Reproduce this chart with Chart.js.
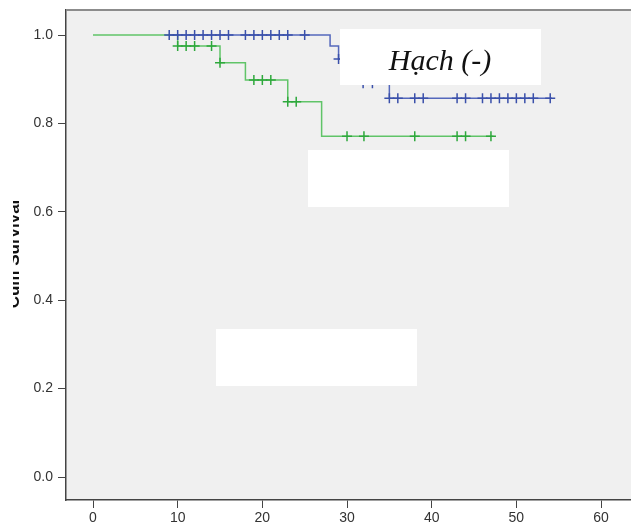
<!DOCTYPE html>
<html>
<head>
<meta charset="utf-8">
<script src="https://cdn.jsdelivr.net/npm/chart.js@4.4.0/dist/chart.umd.min.js"></script>
<style>
  html, body { margin: 0; padding: 0; background: #fff; }
  #wrap { width: 631px; height: 523px; }
</style>
</head>
<body>
<div id="wrap"><canvas id="km" width="631" height="523"></canvas></div>
<script>
// axis ticks
const xTicks = [0, 10, 20, 30, 40, 50, 60];
const yTicks = [0.0, 0.2, 0.4, 0.6, 0.8, 1.0];

// survival steps (time of drop, survival after drop)
const blueTime  = [9, 28, 29, 31, 35, 54.2];
const blueSurv  = [1.0, 0.975, 0.946, 0.891, 0.857, 0.857];
const greenTime = [0, 10, 15, 18, 23, 27, 47.3];
const greenSurv = [1.0, 0.975, 0.937, 0.898, 0.849, 0.771, 0.771];

// censored cases
const blueCensorTime = [9, 10, 11, 12, 13, 14, 15, 16, 18, 19, 20, 21, 22, 23, 25,
                        29, 31.9, 33,
                        35, 36, 38, 39, 43, 44, 46, 47, 48, 49, 50, 51, 52, 54];
const blueCensorSurv = [1, 1, 1, 1, 1, 1, 1, 1, 1, 1, 1, 1, 1, 1, 1,
                        0.946, 0.891, 0.891,
                        0.857, 0.857, 0.857, 0.857, 0.857, 0.857, 0.857, 0.857, 0.857, 0.857, 0.857, 0.857, 0.857, 0.857];
const greenCensorTime = [10, 11, 12, 14, 15, 19, 20, 21, 23, 24, 30, 32, 38, 43, 44, 47];
const greenCensorSurv = [0.975, 0.975, 0.975, 0.975, 0.937, 0.898, 0.898, 0.898,
                         0.849, 0.849, 0.771, 0.771, 0.771, 0.771, 0.771, 0.771];

const BLUE_LINE  = 'rgb(84, 104, 188)';
const BLUE_MARK  = 'rgb(58, 80, 170)';
const GREEN_LINE = 'rgb(96, 196, 104)';
const GREEN_MARK = 'rgb(46, 168, 60)';
const AXIS = '#444';
const FONT = '"Liberation Sans", Arial, sans-serif';

const pts = (xs, ys) => xs.map((x, i) => ({ x, y: ys[i] }));

// keep the plot frame where the reference has it
function noPad(s) {
  s.paddingLeft = 0; s.paddingRight = 0;
  s.paddingTop = 0;  s.paddingBottom = 0;
}

const decor = {
  id: 'decor',
  beforeDraw(chart) {
    const { ctx, chartArea: a } = chart;
    ctx.save();
    ctx.fillStyle = '#fff';
    ctx.fillRect(0, 0, chart.width, chart.height);
    ctx.fillStyle = '#f0f0f0';
    ctx.fillRect(a.left, a.top, a.right - a.left, a.bottom - a.top);
    ctx.restore();
  },
  afterDatasetsDraw(chart) {
    const ctx = chart.ctx;
    ctx.save();
    // white cover boxes
    ctx.fillStyle = '#fff';
    ctx.fillRect(340, 29, 201, 56);
    ctx.fillRect(308, 150, 201, 57);
    ctx.fillRect(216, 329, 201, 57);
    ctx.fillStyle = '#111';
    ctx.font = 'italic 30px "Liberation Serif", "Times New Roman", serif';
    ctx.textAlign = 'center';
    ctx.textBaseline = 'alphabetic';
    ctx.fillText('Hạch (-)', 440, 70);
    ctx.restore();
  },
  afterDraw(chart) {
    const { ctx, chartArea: a } = chart;
    ctx.save();
    // top frame line
    ctx.strokeStyle = '#8c8c8c';
    ctx.lineWidth = 2;
    ctx.beginPath();
    ctx.moveTo(a.left, a.top);
    ctx.lineTo(a.right, a.top);
    ctx.stroke();
    // y title, cut at the left edge
    ctx.beginPath();
    ctx.rect(13, 0, 40, chart.height);
    ctx.clip();
    ctx.translate(19, 254);
    ctx.rotate(-Math.PI / 2);
    ctx.fillStyle = '#111';
    ctx.font = 'bold 17px ' + FONT;
    ctx.textAlign = 'center';
    ctx.textBaseline = 'alphabetic';
    ctx.fillText('Cum Survival', 0, 0);
    ctx.restore();
  }
};

new Chart(document.getElementById('km'), {
  type: 'line',
  data: {
    datasets: [
      { data: pts(blueCensorTime, blueCensorSurv), showLine: false, pointStyle: 'cross',
        pointRadius: 5, borderColor: BLUE_MARK, borderWidth: 1.5 },
      { data: pts(greenCensorTime, greenCensorSurv), showLine: false, pointStyle: 'cross',
        pointRadius: 5, borderColor: GREEN_MARK, borderWidth: 1.5 },
      { data: pts(blueTime, blueSurv), stepped: 'before', borderColor: BLUE_LINE,
        borderWidth: 1.5, pointRadius: 0, fill: false },
      { data: pts(greenTime, greenSurv), stepped: 'before', borderColor: GREEN_LINE,
        borderWidth: 1.5, pointRadius: 0, fill: false },
    ]
  },
  options: {
    responsive: false,
    animation: false,
    devicePixelRatio: 1,
    layout: { autoPadding: false, padding: { top: 10, left: 0, right: 0, bottom: 0 } },
    plugins: { legend: { display: false }, tooltip: { enabled: false } },
    scales: {
      x: {
        type: 'linear',
        min: -3.19, max: 63.54,
        afterBuildTicks: s => { s.ticks = xTicks.map(v => ({ value: v })); },
        afterFit: s => { s.height = 23; noPad(s); },
        grid: { display: true, drawOnChartArea: false, drawTicks: true, tickLength: 8, color: AXIS },
        border: { display: true, color: AXIS, width: 1.5 },
        ticks: { color: '#333', font: { family: FONT, size: 14 }, padding: 2,
                 maxRotation: 0, autoSkip: false, callback: v => String(v) }
      },
      y: {
        type: 'linear',
        min: -0.052, max: 1.0566,
        afterBuildTicks: s => { s.ticks = yTicks.map(v => ({ value: v })); },
        afterFit: s => { s.width = 66; noPad(s); },
        grid: { display: true, drawOnChartArea: false, drawTicks: true, tickLength: 8, color: AXIS },
        border: { display: true, color: AXIS, width: 1.5 },
        ticks: { color: '#333', font: { family: FONT, size: 14 }, padding: 5,
                 autoSkip: false, callback: v => v.toFixed(1) }
      }
    }
  },
  plugins: [decor]
});
</script>
</body>
</html>
